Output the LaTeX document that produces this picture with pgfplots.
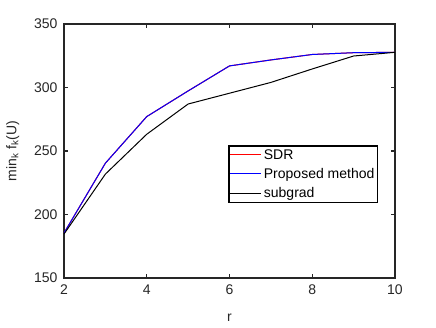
\documentclass[border=0pt]{standalone}
\usepackage{fontspec}
\setmainfont{Liberation Sans}
\usepackage{pgfplots}
\pgfplotsset{compat=1.18}
\definecolor{axgray}{HTML}{262626}

\begin{document}
\begin{tikzpicture}
  \useasboundingbox (-64pt,-49pt) rectangle (372pt,278pt);
  \begin{axis}[
    at={(0,0)}, anchor=south west,
    scale only axis,
    width=331pt, height=254pt,
    xmin=2, xmax=10, ymin=150, ymax=350,
    xtick={2,4,6,8,10},
    ytick={150,200,250,300,350},
    tick align=inside,
    major tick length=4pt,
    axis line style={axgray, line width=1.3pt},
    every tick/.style={axgray, line width=1.1pt},
    /pgf/number format/assume math mode=true,
    tick label style={font=\fontsize{14}{16}\selectfont, text=axgray},
    label style={font=\fontsize{14}{16}\selectfont, text=axgray},
    xlabel={r},
    ylabel={min\textsubscript{k} f\textsubscript{k}(U)},
    xlabel style={at={(axis description cs:0.5,-0.157)}, anchor=center},
    ylabel style={at={(axis description cs:-0.155,0.5)}, anchor=center},
    xticklabel style={yshift=-3pt},
    yticklabel style={xshift=-3pt},
    legend style={
      at={(rel axis cs:0.949,0.295)}, anchor=south east,
      draw=black, line width=1.4pt,
      font=\fontsize{14}{16}\selectfont,
      inner xsep=1pt, inner ysep=1.5pt,
      row sep=3.5pt,
      cells={anchor=west},
    },
    legend image code/.code={
      \draw[#1] (0pt,0pt) -- (31pt,0pt);
    },
  ]
    \addlegendimage{red, line width=1pt}
    \addlegendentry{SDR}
    \addlegendimage{blue, line width=1pt}
    \addlegendentry{Proposed method}
    \addlegendimage{black, line width=1pt}
    \addlegendentry{subgrad}
    \addplot[red, line width=1pt, forget plot] coordinates {
      (2,185.4) (3,240.4) (4,277.1) (5,297.3) (6,317.0)
      (7,321.7) (8,326.0) (9,327.4) (10,327.7)};
    \addplot[blue, line width=1pt, forget plot] coordinates {
      (2,185.4) (3,240.4) (4,277.1) (5,297.3) (6,317.0)
      (7,321.7) (8,326.0) (9,327.4) (10,327.7)};
    \addplot[black, line width=1pt, forget plot] coordinates {
      (2,184.6) (3,231.8) (4,263.2) (5,287.0) (6,295.5)
      (7,304.0) (8,314.6) (9,324.8) (10,327.7)};
  \end{axis}
\end{tikzpicture}
\end{document}
